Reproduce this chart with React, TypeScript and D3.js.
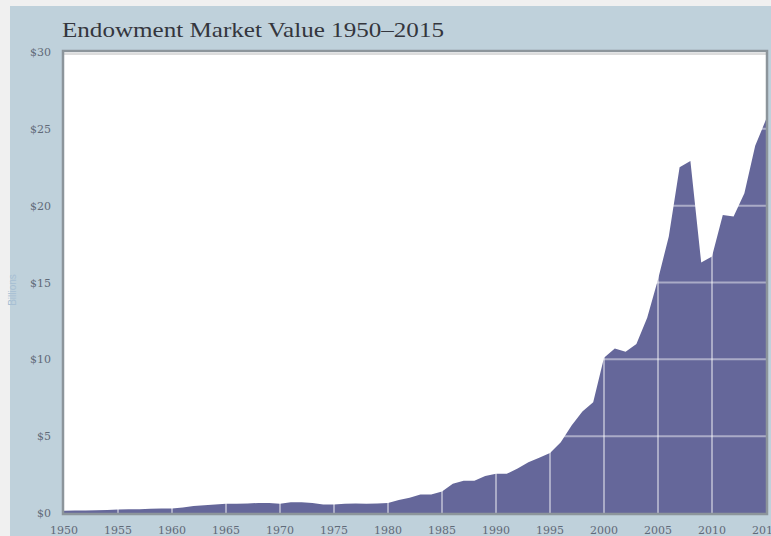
import React from "react";
import * as d3 from "d3";

const years: number[] = [
  1950, 1951, 1952, 1953, 1954, 1955, 1956, 1957, 1958, 1959,
  1960, 1961, 1962, 1963, 1964, 1965, 1966, 1967, 1968, 1969,
  1970, 1971, 1972, 1973, 1974, 1975, 1976, 1977, 1978, 1979,
  1980, 1981, 1982, 1983, 1984, 1985, 1986, 1987, 1988, 1989,
  1990, 1991, 1992, 1993, 1994, 1995, 1996, 1997, 1998, 1999,
  2000, 2001, 2002, 2003, 2004, 2005, 2006, 2007, 2008, 2009,
  2010, 2011, 2012, 2013, 2014, 2015,
];

// Market value, $ billions
const marketValue: number[] = [
  0.15, 0.16, 0.17, 0.18, 0.2, 0.22, 0.25, 0.25, 0.28, 0.3,
  0.3, 0.35, 0.45, 0.5, 0.55, 0.6, 0.6, 0.62, 0.65, 0.65,
  0.6, 0.7, 0.7, 0.65, 0.55, 0.55, 0.6, 0.62, 0.6, 0.62,
  0.65, 0.85, 1.0, 1.2, 1.2, 1.4, 1.9, 2.1, 2.1, 2.4,
  2.55, 2.55, 2.9, 3.3, 3.6, 3.9, 4.6, 5.7, 6.6, 7.2,
  10.1, 10.7, 10.5, 11.0, 12.7, 15.2, 18.0, 22.5, 22.9, 16.3,
  16.7, 19.4, 19.3, 20.8, 23.9, 25.6,
];

const yTicks: number[] = [0, 5, 10, 15, 20, 25, 30];
const yTickLabels: string[] = ["$0", "$5", "$10", "$15", "$20", "$25", "$30"];
const xTicks: number[] = [1950, 1955, 1960, 1965, 1970, 1975, 1980, 1985, 1990, 1995, 2000, 2005, 2010, 2015];

const W = 771;
const H = 536;
const plot = { left: 64, right: 766, top: 52, bottom: 513 };

export default function App() {
  const x = d3.scaleLinear().domain([1950, 2015]).range([plot.left, plot.right]);
  const y = d3.scaleLinear().domain([0, 30]).range([plot.bottom, plot.top]);
  const data = years.map((yr, i) => ({ yr, v: marketValue[i] }));
  const area = d3
    .area<{ yr: number; v: number }>()
    .x((d) => x(d.yr))
    .y0(y(0))
    .y1((d) => y(d.v))
    .curve(d3.curveLinear);

  return (
    <svg
      width={W}
      height={H}
      style={{ position: "fixed", left: 0, top: 0 }}
      fontFamily="'Liberation Serif', 'DejaVu Serif', serif"
    >
      <rect x={0} y={0} width={W} height={H} fill="#f0f0f0" />
      <rect x={10} y={6} width={W - 10} height={H - 6} fill="#bfd1db" />
      <text x={62} y={37} fontSize={22} fill="#34363d" textLength={382} lengthAdjust="spacingAndGlyphs">
        Endowment Market Value 1950–2015
      </text>
      <text
        transform="translate(16,290) rotate(-90)"
        textAnchor="middle"
        fontSize={10}
        fill="#a7bfd3"
        fontFamily="'Liberation Sans', sans-serif"
      >
        Billions
      </text>
      <rect x={plot.left} y={plot.top} width={plot.right - plot.left} height={plot.bottom - plot.top} fill="#ffffff" />
      <path d={area(data) || ""} fill="#65679a" />
      {yTicks
        .filter((t) => t > 0 && t < 30)
        .map((t) => (
          <line
            key={"gy" + t}
            x1={plot.left}
            x2={plot.right}
            y1={y(t)}
            y2={y(t)}
            stroke="#ffffff"
            strokeOpacity={0.45}
            strokeWidth={2}
          />
        ))}
      {xTicks
        .filter((t) => t > 1950 && t < 2015)
        .map((t) => (
          <line
            key={"gx" + t}
            x1={x(t)}
            x2={x(t)}
            y1={plot.top}
            y2={plot.bottom}
            stroke="#ffffff"
            strokeOpacity={0.45}
            strokeWidth={2}
          />
        ))}
      <line x1={plot.left} x2={plot.right + 2} y1={plot.top + 2} y2={plot.top + 2} stroke="#dcdcdc" strokeWidth={2} />
      <rect
        x={plot.left - 1}
        y={plot.top - 1}
        width={plot.right - plot.left + 2}
        height={plot.bottom - plot.top + 2}
        fill="none"
        stroke="#8c959b"
        strokeWidth={2.5}
      />
      {yTicks.map((t, i) => (
        <text
          key={"yl" + t}
          x={51}
          y={y(t) + 4}
          textAnchor="end"
          fontSize={11}
          fill="#5f6a78"
          fontFamily="'DejaVu Serif', serif"
        >
          {yTickLabels[i]}
        </text>
      ))}
      {xTicks.map((t) => (
        <text
          key={"xl" + t}
          x={x(t)}
          y={534}
          textAnchor="middle"
          fontSize={11}
          fill="#5f6a78"
          fontFamily="'DejaVu Serif', serif"
        >
          {t}
        </text>
      ))}
    </svg>
  );
}
